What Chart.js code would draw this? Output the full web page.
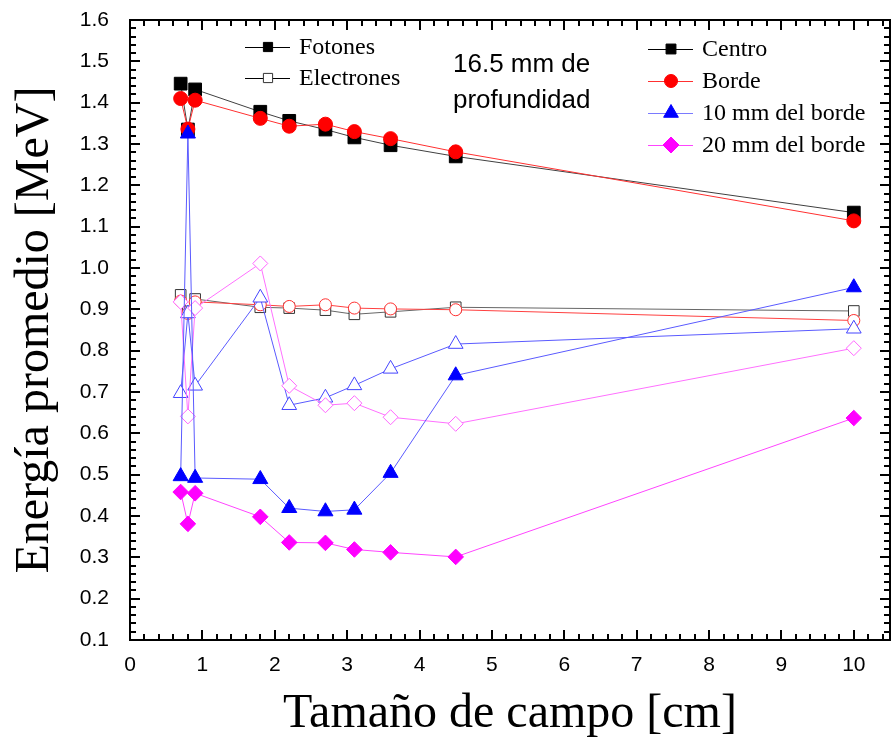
<!DOCTYPE html>
<html>
<head>
<meta charset="utf-8">
<script src="https://cdn.jsdelivr.net/npm/chart.js@4/dist/chart.umd.min.js"></script>
<style>
  html, body { margin: 0; padding: 0; background: #fff; }
  #wrap { width: 893px; height: 744px; }
</style>
</head>
<body>
<div id="wrap"><canvas id="energyPlot" width="893" height="744"></canvas></div>
<script>
// field sizes [cm]
const fieldSizes = [0.7, 0.8, 0.9, 1.8, 2.2, 2.7, 3.1, 3.6, 4.5, 10];

// mean energy [MeV], photons (filled markers)
const photonCentro = [1.446, 1.335, 1.432, 1.378, 1.356, 1.335, 1.316, 1.297, 1.270, 1.134];
const photonBorde  = [1.410, 1.336, 1.406, 1.362, 1.343, 1.348, 1.330, 1.313, 1.281, 1.114];
const photon10mm   = [0.496, 1.325, 0.492, 0.489, 0.419, 0.411, 0.415, 0.504, 0.740, 0.953];
const photon20mm   = [0.458, 0.381, 0.455, 0.398, 0.336, 0.335, 0.319, 0.312, 0.301, 0.637];

// mean energy [MeV], electrons (open markers)
const electronCentro = [0.935, 0.895, 0.925, 0.905, 0.903, 0.898, 0.888, 0.894, 0.905, 0.896];
const electronBorde  = [0.920, 0.890, 0.918, 0.911, 0.907, 0.911, 0.903, 0.901, 0.899, 0.873];
const electron10mm   = [0.697, 0.890, 0.715, 0.928, 0.668, 0.686, 0.716, 0.756, 0.816, 0.853];
const electron20mm   = [0.918, 0.641, 0.903, 1.011, 0.715, 0.668, 0.673, 0.639, 0.623, 0.806];

const xTickValues = [0, 1, 2, 3, 4, 5, 6, 7, 8, 9, 10];
const yTickValues = [0.1, 0.2, 0.3, 0.4, 0.5, 0.6, 0.7, 0.8, 0.9, 1.0, 1.1, 1.2, 1.3, 1.4, 1.5, 1.6];

const particleLabels = ["Fotones", "Electrones"];
const positionLabels = ["Centro", "Borde", "10 mm del borde", "20 mm del borde"];
const noteLines = ["16.5 mm de", "profundidad"];

const xTitle = "Tamaño de campo [cm]";
const yTitle = "Energía promedio [MeV]";

function pts(values) {
    return values.map((v, i) => ({ x: fieldSizes[i], y: v }));
}

function series(label, values, style, color, lineColor, radius, filled) {
    return {
        label: label,
        data: pts(values),
        showLine: true,
        borderColor: lineColor,
        borderWidth: 1,
        pointStyle: style,
        pointRadius: radius,
        pointHoverRadius: radius,
        pointBackgroundColor: filled ? color : "#ffffff",
        pointBorderColor: color,
        pointBorderWidth: 1,
        fill: false,
        tension: 0
    };
}

// first dataset is drawn on top
const datasets = [
    series("Fotones 10 mm", photon10mm, "triangle", "#0000ff", "#5a5aff", 8.7, true),
    series("Fotones 20 mm", photon20mm, "rectRot", "#ff00ff", "#ff44ff", 7.8, true),
    series("Fotones Borde", photonBorde, "circle", "#ff0000", "#ff3030", 7, true),
    series("Fotones Centro", photonCentro, "rect", "#000000", "#404040", 9, true),
    series("Electrones 20 mm", electron20mm, "rectRot", "#ff66ff", "#ff70ff", 7.5, false),
    series("Electrones 10 mm", electron10mm, "triangle", "#4444ff", "#5a5aff", 8.5, false),
    series("Electrones Borde", electronBorde, "circle", "#ff3030", "#ff4040", 6, false),
    series("Electrones Centro", electronCentro, "rect", "#333333", "#666666", 7.5, false)
];

// inward ticks on all four sides plus the frame
const framePlugin = {
    id: "frame",
    afterDatasetsDraw(chart) {
        const { ctx, chartArea: a, scales: { x, y } } = chart;
        ctx.save();
        ctx.strokeStyle = "#000";
        ctx.lineWidth = 2;
        ctx.beginPath();
        for (let i = 0; i <= 52; i++) {
            const v = i * 0.2;
            const px = Math.round(x.getPixelForValue(v));
            const len = (i % 5 === 0) ? 10 : 6;
            ctx.moveTo(px, a.bottom); ctx.lineTo(px, a.bottom - len);
            ctx.moveTo(px, a.top); ctx.lineTo(px, a.top + len);
        }
        for (let i = 0; i <= 75; i++) {
            const v = 0.1 + i * 0.02;
            const py = Math.round(y.getPixelForValue(v));
            const len = (i % 5 === 0) ? 10 : 6;
            ctx.moveTo(a.left, py); ctx.lineTo(a.left + len, py);
            ctx.moveTo(a.right, py); ctx.lineTo(a.right - len, py);
        }
        ctx.stroke();
        ctx.strokeRect(a.left, a.top, a.right - a.left, a.bottom - a.top);
        ctx.restore();
    }
};

function marker(ctx, style, radius, color, filled, px, py) {
    ctx.fillStyle = filled ? color : "#ffffff";
    ctx.strokeStyle = color;
    ctx.lineWidth = 1;
    Chart.helpers.drawPoint(ctx, { pointStyle: style, radius: radius, rotation: 0, borderWidth: 1 }, px, py);
}

function legendRow(ctx, x0, y0, lineColor, style, radius, color, filled, text) {
    ctx.strokeStyle = lineColor;
    ctx.lineWidth = 1;
    ctx.beginPath();
    ctx.moveTo(x0, y0 + 0.5);
    ctx.lineTo(x0 + 45, y0 + 0.5);
    ctx.stroke();
    marker(ctx, style, radius, color, filled, x0 + 23, y0);
    ctx.fillStyle = "#000";
    ctx.fillText(text, x0 + 54, y0 + 1);
}

const legendPlugin = {
    id: "legends",
    afterDraw(chart) {
        const ctx = chart.ctx;
        ctx.save();
        ctx.font = "24px 'Liberation Serif', 'Times New Roman', serif";
        ctx.textBaseline = "middle";
        ctx.textAlign = "left";
        legendRow(ctx, 245, 47, "#000", "rect", 6.5, "#000", true, particleLabels[0]);
        legendRow(ctx, 245, 78, "#000", "rect", 6.5, "#333", false, particleLabels[1]);

        legendRow(ctx, 648, 49, "#000", "rect", 7, "#000", true, positionLabels[0]);
        legendRow(ctx, 648, 81, "#ff3030", "circle", 6.5, "#ff0000", true, positionLabels[1]);
        legendRow(ctx, 648, 113, "#7a7aff", "triangle", 8.5, "#0000ff", true, positionLabels[2]);
        legendRow(ctx, 648, 145, "#ff44ff", "rectRot", 8, "#ff00ff", true, positionLabels[3]);

        ctx.font = "26px 'Liberation Sans', Arial, sans-serif";
        ctx.textBaseline = "alphabetic";
        ctx.fillText(noteLines[0], 453, 72);
        ctx.fillText(noteLines[1], 453, 108);
        ctx.restore();
    }
};

const ctx = document.getElementById("energyPlot");
const chart = new Chart(ctx, {
    type: "scatter",
    data: { datasets: datasets },
    options: {
        responsive: false,
        animation: false,
        devicePixelRatio: 1,
        events: [],
        layout: { autoPadding: false, padding: { top: 20, right: 3, left: 0, bottom: 0 } },
        plugins: {
            legend: { display: false },
            tooltip: { enabled: false }
        },
        scales: {
            x: {
                type: "linear",
                min: 0,
                max: 10.5,
                grid: { display: false },
                border: { display: false },
                afterBuildTicks: (s) => { s.ticks = xTickValues.map(v => ({ value: v })); },
                afterFit: (s) => { s.height = 104; s.paddingLeft = 0; s.paddingRight = 0; },
                ticks: {
                    padding: 5,
                    color: "#000",
                    font: { family: "'Liberation Sans', Arial, sans-serif", size: 21 },
                    callback: (v) => String(v)
                },
                title: {
                    display: true,
                    text: xTitle,
                    color: "#000",
                    font: { family: "'Liberation Serif', 'Times New Roman', serif", size: 48, lineHeight: 1 },
                    padding: { top: 0, bottom: 6 }
                }
            },
            y: {
                type: "linear",
                min: 0.1,
                max: 1.6,
                grid: { display: false },
                border: { display: false },
                afterBuildTicks: (s) => { s.ticks = yTickValues.map(v => ({ value: v })); },
                afterFit: (s) => { s.width = 130; s.paddingTop = 0; s.paddingBottom = 0; },
                ticks: {
                    padding: 13,
                    color: "#000",
                    font: { family: "'Liberation Sans', Arial, sans-serif", size: 21 },
                    callback: (v) => Number(v).toFixed(1)
                },
                title: {
                    display: true,
                    text: yTitle,
                    color: "#000",
                    font: { family: "'Liberation Serif', 'Times New Roman', serif", size: 48, lineHeight: 1 },
                    padding: { top: 11, bottom: 0 }
                }
            }
        }
    },
    plugins: [framePlugin, legendPlugin]
});
</script>
</body>
</html>
